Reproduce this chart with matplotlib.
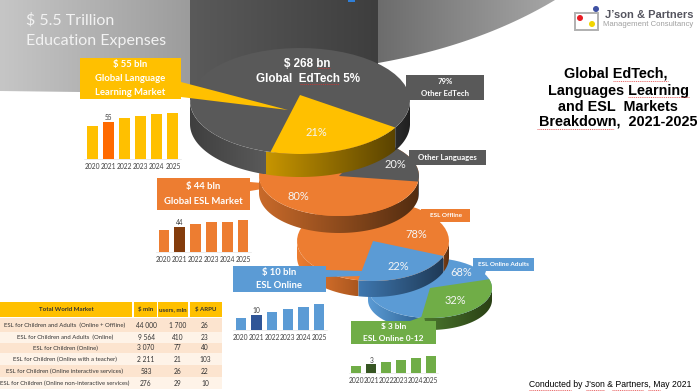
import numpy as np
import matplotlib
matplotlib.use("Agg")
import matplotlib.pyplot as plt
from matplotlib.colors import LinearSegmentedColormap
from matplotlib.patches import Polygon, Rectangle, Circle

W, H = 700, 391
years = ["2020", "2021", "2022", "2023", "2024", "2025"]
lang_market = [49, 55, 61, 65, 67, 69]
esl_market = [39, 44, 49, 52, 53, 56]
esl_online = [8, 10, 12, 14, 15, 17]
esl_kids = [2.4, 3, 3.7, 4.4, 5, 5.7]

edtech_share = [21, 79]
language_share = [20, 80]
esl_share = [22, 78]
online_share = [32, 68]

table_header = ["Total World Market", "$ mln", "users, mln", "$ ARPU"]
table_names = ["ESL for Children and Adults  (Online + Offline)",
               "ESL for Children and Adults  (Online)",
               "ESL for Children (Online)",
               "ESL for Children (Online with a teacher)",
               "ESL for Children (Online interactive services)",
               "ESL for Children (Online non-interactive services)"]
table_mln = ["44 000", "9 564", "3 070", "2 211", "583", "276"]
table_users = ["1 700", "410", "77", "21", "26", "29"]
table_arpu = ["26", "23", "40", "103", "22", "10"]

fig = plt.figure(figsize=(7, 3.91), dpi=100)
ax = fig.add_axes([0, 0, 1, 1])
ax.set_xlim(0, W)
ax.set_ylim(H, 0)
ax.axis("off")
SANS = "Lato"
ARIAL = "Liberation Sans"


def grad(verts, colors, z):
    poly = Polygon(verts, closed=True, fc="none", ec="none", transform=ax.transData)
    ax.add_patch(poly)
    v = np.asarray(verts)
    cmap = LinearSegmentedColormap.from_list("g", colors)
    im = ax.imshow(np.linspace(0, 1, 256)[None, :], cmap=cmap, aspect="auto",
                   extent=(v[:, 0].min(), v[:, 0].max(), v[:, 1].max(), v[:, 1].min()),
                   zorder=z, interpolation="bilinear")
    im.set_clip_path(poly)
    ax.set_xlim(0, W)
    ax.set_ylim(H, 0)


def arc(cx, cy, a, b, t0, t1, dy=0):
    t = np.radians(np.linspace(t0, t1, 60))
    return np.column_stack([cx + a * np.cos(t), cy - b * np.sin(t) + dy])


def disc(cx, cy, a, b, h, start, share, wedge_col, rest_col, walls, z, apex_dy=0):
    """share% wedge runs clockwise from `start`; walls = (t0, t1, colours) for the rim."""
    for t0, t1, cols in walls:
        top = arc(cx, cy, a, b, t0, t1)
        bot = arc(cx, cy, a, b, t1, t0, dy=h)
        grad(np.vstack([top, bot]), cols, z)
    ax.add_patch(Polygon(arc(cx, cy, a, b, 0, 360), fc=rest_col, ec="none", zorder=z + .1))
    end = start - share * 3.6
    w = np.vstack([[cx, cy + apex_dy], arc(cx, cy, a, b, start, end)])
    ax.add_patch(Polygon(w, fc=wedge_col, ec="none", zorder=z + .2))


def minibars(values, x0, x1, base, top, color, hi, fs=4.8):
    a = fig.add_axes([x0 / W, 1 - base / H, (x1 - x0) / W, (base - top) / H])
    cols = [hi if y == "2021" else color for y in years]
    a.bar(years, values, width=.68, color=cols)
    a.set_ylim(0, max(values))
    a.set_xlim(-.5, 5.5)
    a.patch.set_alpha(0)
    for s in ["top", "left", "right"]:
        a.spines[s].set_visible(False)
    a.spines["bottom"].set_color("#e4e4e4")
    a.spines["bottom"].set_linewidth(.5)
    a.set_yticks([])
    a.tick_params(axis="x", length=0, pad=3.2, labelsize=fs, labelcolor="#404040")
    for l in a.get_xticklabels():
        l.set_fontfamily(SANS)
    a.text(1, values[1] + max(values) * .03, f"{round(values[1])}", ha="center", va="bottom", fontsize=fs,
           color="#404040", family=SANS, clip_on=False)


def box(x0, y0, x1, y1, color, lines, fs, z=20, weight="bold", col="white"):
    ax.add_patch(Rectangle((x0, y0), x1 - x0, y1 - y0, fc=color, ec="none", zorder=z))
    n = len(lines)
    step = (y1 - y0) / n
    for i, s in enumerate(lines):
        ax.text((x0 + x1) / 2, y0 + step * (i + .5), s, ha="center", va="center", fontsize=fs,
                color=col, family=SANS, weight=weight, zorder=z + 1)


# Background shapes
grad([(0, 0), (190, 0), (190, 90), (80, 92), (0, 91)], ["#c6c6c6", "#9c9c9c"], 1)
curve = np.array([(1 - t) ** 2 * np.array([378, 63]) + 2 * t * (1 - t) * np.array([480, 45])
                  + t ** 2 * np.array([555, 0]) for t in np.linspace(0, 1, 50)])
grad(np.vstack([[(378, 0)], curve]), ["#6c6c6c", "#a6a6a6"], 1)
grad([(190, 0), (378, 0), (378, 70), (375, 100), (190, 100)], ["#5a5a5a", "#3e3e3e"], 2)
ax.add_patch(Rectangle((348, 0), 7, 2, fc="#2f7fd8", ec="none", zorder=3))

ax.text(26, 20, "$ 5.5 Trillion", color="#f2f2f2", fontsize=11.5, family=SANS, va="center", zorder=5)
ax.text(26, 41, "Education Expenses", color="#f2f2f2", fontsize=11.5, family=SANS, va="center", zorder=5)

# Discs, back to front
disc(430, 288, 62, 30, 12, 17, online_share[0], "#70ad47", "#5b9bd5",
     [(-180, -98, ["#5b9bd5", "#2f6494"]), (-98, 0, ["#4c7a2e", "#2a4015"])], 6)
disc(373, 241, 76, 40, 16, -22, esl_share[0], "#5b9bd5", "#ed7d31",
     [(-180, -101, ["#ed7d31", "#a9561f"]), (-101, -22, ["#3f78b0", "#1f3a57"]),
      (-22, 0, ["#7a3f16", "#5a2e10"])], 8)
disc(339, 176, 80, 40, 17, 64, language_share[0], "#595959", "#ed7d31",
     [(-180, -8, ["#c96a2a", "#522c10"]), (-8, 0, ["#3c3c3c", "#303030"])], 10)
disc(300, 101, 110, 53, 23, -30, edtech_share[0], "#ffc000", "#595959",
     [(-180, -108, ["#3f3f3f", "#5a5a5a"]), (-108, -30, ["#c79500", "#5a4300"]),
      (-30, 0, ["#2c2c2c", "#1f1f1f"])], 12, apex_dy=-6)

# Connectors
ax.add_patch(Polygon([(181, 82), (181, 97), (288, 110)], fc="#ffc000", ec="none", zorder=13))
ax.add_patch(Polygon([(250, 182), (250, 191), (262, 189), (262, 183)], fc="#ed7d31", ec="none", zorder=9))
ax.add_patch(Polygon([(326, 270), (326, 277), (362, 276), (362, 271)], fc="#5b9bd5", ec="none", zorder=9))
ax.add_patch(Polygon([(410, 321), (425, 321), (424, 316)], fc="#70ad47", ec="none", zorder=9))
ax.add_patch(Polygon([(474, 268), (486, 271), (483, 280)], fc="#5b9bd5", ec="none", zorder=7))
ax.add_patch(Polygon([(425, 222), (440, 222), (436, 232)], fc="#ed7d31", ec="none", zorder=9))

# Callouts
box(80, 58, 181, 99, "#ffc000", ["$ 55 bln", "Global Language", "Learning Market"], 6.8)
box(157, 178, 250, 210, "#ed7d31", ["$ 44 bln", "Global ESL Market"], 6.8)
box(233, 266, 326, 292, "#5b9bd5", ["$ 10 bln", "ESL Online"], 6.8)
box(351, 321, 436, 344, "#70ad47", ["$ 3 bln", "ESL Online 0-12"], 6.0)
box(473, 258, 534, 271, "#5b9bd5", ["ESL Online Adults"], 4.6)
box(421, 209, 470, 222, "#ed7d31", ["ESL Offline"], 4.6)
box(409, 150, 486, 165, "#595959", ["Other Languages"], 5.6)
box(406, 75, 484, 100, "#595959", ["79%", "Other EdTech"], 5.6)

for x, y, s, fs in [(316, 133, "21%", 8), (395, 165, "20%", 8), (298, 197, "80%", 8),
                    (416, 234, "78%", 8), (398, 267, "22%", 8), (461, 273, "68%", 8),
                    (455, 301, "32%", 8)]:
    ax.text(x, y, s, color="#f5f5f5", fontsize=fs, family=SANS, ha="center", va="center", zorder=30)
ax.text(307, 64, "$ 268 bn", color="white", fontsize=8.4, weight="bold", family=ARIAL,
        ha="center", va="center", zorder=30)
ax.text(308, 78.5, "Global  EdTech 5%", color="white", fontsize=8.4, weight="bold", family=ARIAL,
        ha="center", va="center", zorder=30)

# Mini bar charts
minibars(lang_market, 84, 181, 159, 113, "#ffc000", "#ff6a00")
minibars(esl_market, 156, 251, 252, 220, "#ed7d31", "#843c0c")
minibars(esl_online, 233, 327, 330, 304, "#5b9bd5", "#2f5597")
minibars(esl_kids, 349, 438, 373, 356, "#70ad47", "#375623")

# Title
for x, y, s in zip([616, 618, 618, 618], [74, 91, 107, 122],
                   ["Global EdTech,", "Languages Learning", "and ESL  Markets", "Breakdown,  2021-2025"]):
    ax.text(x, y, s, ha="center", va="center", fontsize=10.4, weight="bold", family=ARIAL,
            color="black", zorder=30)

# Logo
ax.add_patch(Rectangle((574.5, 13), 23, 17, fc="white", ec="#b0b0b0", lw=1.4, zorder=5))
ax.add_patch(Circle((580, 18), 3, fc="#e81c24", ec="none", zorder=6))
ax.add_patch(Circle((596, 9), 3, fc="#3f51a3", ec="none", zorder=6))
ax.add_patch(Circle((592, 24), 3, fc="#f2d500", ec="none", zorder=6))
ax.text(605, 15, "J’son & Partners", fontsize=8.0, weight="bold", family=ARIAL, color="#55555f",
        va="center", zorder=6)
ax.text(603, 25, "Management Consultancy", fontsize=5.6, family=ARIAL, color="#a0a0a0", va="center", zorder=6)

ax.text(529, 384.5, "Conducted by J'son & Partners, May 2021", fontsize=6.2, family=ARIAL,
        color="black", va="center", zorder=30)

# Spell-check underlines seen in the source slide
for x0, x1, y in [(300, 339, 84), (318, 330, 68), (613, 668, 81), (628, 689, 97),
                  (537, 614, 129), (529, 571, 390), (586, 604, 390), (612, 643, 390), (648, 660, 390)]:
    ax.plot([x0, x1], [y, y], color="#e03030", lw=.5, ls=(0, (1.5, 1.2)), zorder=31)

# Table
cols = [(0, 132), (134, 157), (158, 188), (190, 222)]
for (x0, x1), s in zip(cols, table_header):
    ax.add_patch(Rectangle((x0, 302), x1 - x0, 15, fc="#ffc000", ec="none", zorder=20))
    ax.text((x0 + x1) / 2, 309.5, s, fontsize=4.4, weight="bold", family=SANS, ha="center",
            va="center", color="#333333", zorder=21)
row_y = [318, 332, 343, 353, 365, 377, 389]
for i in range(6):
    y0, y1 = row_y[i], row_y[i + 1]
    ax.add_patch(Rectangle((0, y0), 222, y1 - y0, fc="#fce4cf" if i % 2 == 0 else "#fef3e8", ec="none", zorder=20))
    ym = (y0 + y1) / 2
    ax.text(65, ym, table_names[i], fontsize=4.3, family=SANS, ha="center", va="center", color="#333333", zorder=21)
    ax.text(146, ym, table_mln[i], fontsize=4.8, family=SANS, ha="center", va="center", color="#333333", zorder=21)
    ax.text(178, ym, table_users[i], fontsize=4.8, family=SANS, ha="center", va="center", color="#333333", zorder=21)
    ax.text(205, ym, table_arpu[i], fontsize=4.8, family=SANS, ha="center", va="center", color="#333333", zorder=21)

fig.savefig("out.png", dpi=100)
